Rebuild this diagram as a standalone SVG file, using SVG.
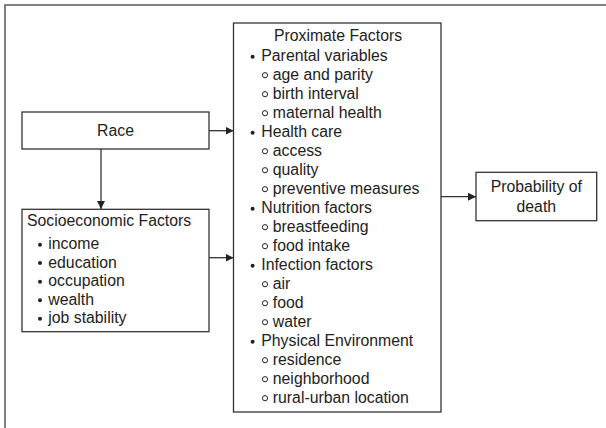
<svg xmlns="http://www.w3.org/2000/svg" width="606" height="428" viewBox="0 0 606 428">
<style>
.box{fill:#fff;stroke:#333;stroke-width:1.3}
.t{font-family:"Liberation Sans",Arial,sans-serif;font-size:15.8px;fill:#222}
.c{text-anchor:middle}
.con{stroke:#333;stroke-width:1.3;fill:none}
.dot{fill:#222}
.ring{fill:none;stroke:#222;stroke-width:1}
</style>
<defs>
<marker id="ah" viewBox="0 0 10 10" refX="10" refY="5" markerWidth="8" markerHeight="8" markerUnits="userSpaceOnUse" orient="auto">
<path d="M0,0L10,5L0,10z" fill="#222"/>
</marker>
</defs>
<rect x="5" y="5" width="620" height="440" fill="#fff" stroke="#555" stroke-width="1.5"/>
<g id="connectors">
<line class="con" x1="209" y1="130.7" x2="233.5" y2="130.7" marker-end="url(#ah)"/>
<line class="con" x1="101" y1="149" x2="101" y2="209" marker-end="url(#ah)"/>
<line class="con" x1="209" y1="257.7" x2="233.5" y2="257.7" marker-end="url(#ah)"/>
<line class="con" x1="441" y1="196.7" x2="476" y2="196.7" marker-end="url(#ah)"/>
</g>
<g id="race">
<rect class="box" x="22" y="112" width="187" height="37"/>
<text class="t c" x="115.5" y="136.2">Race</text>
</g>
<g id="socio">
<rect class="box" x="22" y="209.3" width="187" height="122.4"/>
<text class="t" x="27" y="225.5">Socioeconomic Factors</text>
<circle class="dot" cx="40" cy="244.7" r="2"/><text class="t" x="48.3" y="249.2">income</text>
<circle class="dot" cx="40" cy="263" r="2"/><text class="t" x="48.3" y="267.5">education</text>
<circle class="dot" cx="40" cy="281.7" r="2"/><text class="t" x="48.3" y="286.2">occupation</text>
<circle class="dot" cx="40" cy="300.3" r="2"/><text class="t" x="48.3" y="304.8">wealth</text>
<circle class="dot" cx="40" cy="318.7" r="2"/><text class="t" x="48.3" y="323.2">job stability</text>
</g>
<g id="proximate">
<rect class="box" x="233.5" y="23" width="207.5" height="389"/>
<text class="t c" x="338" y="41.2">Proximate Factors</text>
<circle class="dot" cx="252.6" cy="56.7" r="2"/><text class="t" x="261.3" y="61.2">Parental variables</text>
<circle class="ring" cx="265" cy="75.2" r="2.6"/><text class="t" x="272.8" y="80.2">age and parity</text>
<circle class="ring" cx="265" cy="94.2" r="2.6"/><text class="t" x="272.8" y="99.2">birth interval</text>
<circle class="ring" cx="265" cy="113.2" r="2.6"/><text class="t" x="272.8" y="118.2">maternal health</text>
<circle class="dot" cx="252.6" cy="132.7" r="2"/><text class="t" x="261.3" y="137.2">Health care</text>
<circle class="ring" cx="265" cy="151.2" r="2.6"/><text class="t" x="272.8" y="156.2">access</text>
<circle class="ring" cx="265" cy="170.2" r="2.6"/><text class="t" x="272.8" y="175.2">quality</text>
<circle class="ring" cx="265" cy="189.2" r="2.6"/><text class="t" x="272.8" y="194.2">preventive measures</text>
<circle class="dot" cx="252.6" cy="208.7" r="2"/><text class="t" x="261.3" y="213.2">Nutrition factors</text>
<circle class="ring" cx="265" cy="227.2" r="2.6"/><text class="t" x="272.8" y="232.2">breastfeeding</text>
<circle class="ring" cx="265" cy="246.2" r="2.6"/><text class="t" x="272.8" y="251.2">food intake</text>
<circle class="dot" cx="252.6" cy="265.7" r="2"/><text class="t" x="261.3" y="270.2">Infection factors</text>
<circle class="ring" cx="265" cy="284.2" r="2.6"/><text class="t" x="272.8" y="289.2">air</text>
<circle class="ring" cx="265" cy="303.2" r="2.6"/><text class="t" x="272.8" y="308.2">food</text>
<circle class="ring" cx="265" cy="322.2" r="2.6"/><text class="t" x="272.8" y="327.2">water</text>
<circle class="dot" cx="252.6" cy="341.7" r="2"/><text class="t" x="261.3" y="346.2">Physical Environment</text>
<circle class="ring" cx="265" cy="360.2" r="2.6"/><text class="t" x="272.8" y="365.2">residence</text>
<circle class="ring" cx="265" cy="379.2" r="2.6"/><text class="t" x="272.8" y="384.2">neighborhood</text>
<circle class="ring" cx="265" cy="398.2" r="2.6"/><text class="t" x="272.8" y="403.2">rural-urban location</text>
</g>
<g id="probability">
<rect class="box" x="476" y="172.3" width="120.7" height="48.4"/>
<text class="t c" x="536.3" y="192.4">Probability of</text>
<text class="t c" x="536.3" y="211.6">death</text>
</g>
</svg>
